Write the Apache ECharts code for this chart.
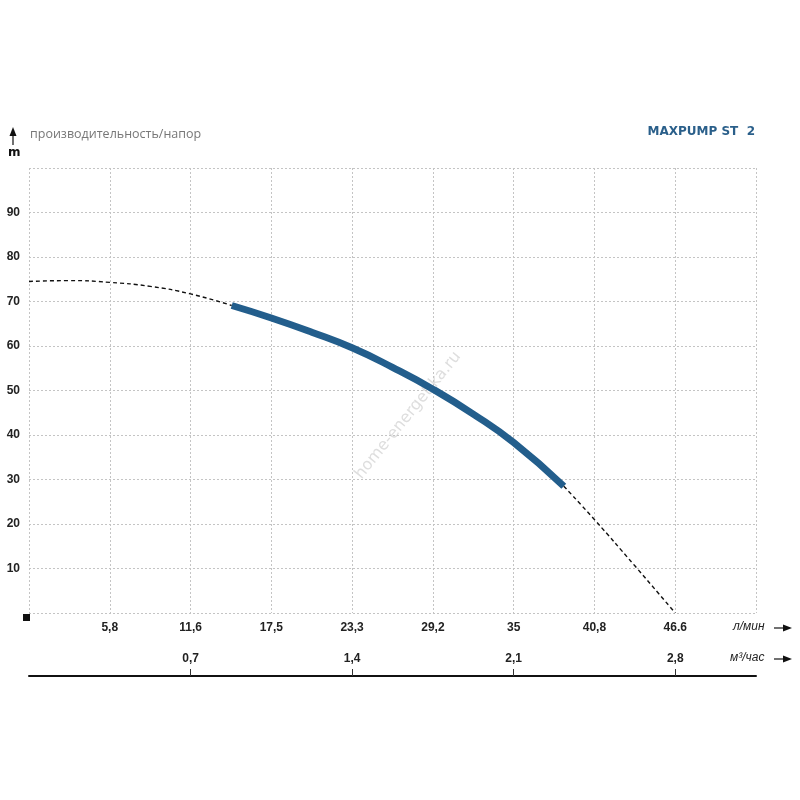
<!DOCTYPE html>
<html>
<head>
<meta charset="utf-8">
<script src="https://cdn.jsdelivr.net/npm/echarts@6/dist/echarts.min.js"></script>
<style>
  html, body { margin: 0; padding: 0; background: #fff; }
  #chart { width: 800px; height: 800px; }
</style>
</head>
<body>
<div id="chart"></div>
<script>
// подписи оси расхода (л/мин), по одной на каждую клетку сетки
const flowLabels = ['', '5,8', '11,6', '17,5', '23,3', '29,2', '35', '40,8', '46.6', ''];
const flowStep = 35 / 6;
// вторая ось, м3/час
const volTicks = [0.7, 1.4, 2.1, 2.8];
const volLabels = ['0,7', '1,4', '2,1', '2,8'];

// кривая напора [л/мин, м]
const headLeft = [[0, 74.5], [2.92, 74.7], [5.83, 74.3], [8.75, 73.4], [11.67, 71.7], [14.64, 69.1]];
const headWork = [[14.64, 69.1], [17.5, 66.3], [20.42, 63.1], [23.33, 59.6], [26.25, 55.2],
                  [29.17, 50.3], [32.08, 44.7], [35, 38.3], [38.62, 28.5]];
const headRight = [[38.62, 28.5], [40.83, 21.0], [43.75, 10.6], [46.67, 0]];

const myChart = echarts.init(document.getElementById('chart'));
const labelFont = '"Liberation Sans Narrow", "Liberation Sans", Arial, sans-serif';

const option = {
    animation: false,
    grid: { left: 29, right: 44, top: 168, bottom: 187 },
    xAxis: [
        {
            type: 'value',
            min: 0,
            max: flowStep * 9,
            interval: flowStep,
            axisLine: { show: false },
            axisTick: { show: false },
            axisLabel: {
                margin: 9,
                fontFamily: labelFont,
                fontWeight: 'bold',
                fontSize: 12,
                color: '#222',
                formatter: function (v) {
                    return flowLabels[Math.round(v / flowStep)] || '';
                }
            },
            splitLine: { lineStyle: { color: '#c4c4c4', type: [2, 2], width: 1 } }
        },
        {
            type: 'value',
            position: 'bottom',
            offset: 63,
            min: 0,
            max: flowStep * 9 * 0.06,
            axisLine: { show: true, lineStyle: { color: '#111', width: 2 } },
            axisTick: { show: true, inside: true, length: 7, customValues: volTicks, lineStyle: { color: '#333' } },
            axisLabel: {
                inside: true,
                margin: 11,
                customValues: volTicks,
                fontFamily: labelFont,
                fontWeight: 'bold',
                fontSize: 12,
                color: '#222',
                formatter: function (v) {
                    const i = volTicks.findIndex(t => Math.abs(t - v) < 1e-6);
                    return i >= 0 ? volLabels[i] : '';
                }
            },
            splitLine: { show: false }
        }
    ],
    yAxis: {
        type: 'value',
        min: 0,
        max: 100,
        interval: 10,
        axisLine: { show: false },
        axisTick: { show: false },
        axisLabel: {
            margin: 9,
            fontFamily: labelFont,
            fontWeight: 'bold',
            fontSize: 12,
            color: '#222',
            formatter: function (v) {
                return (v === 0 || v === 100) ? '' : v;
            }
        },
        splitLine: { lineStyle: { color: '#c4c4c4', type: [2, 2], width: 1 } }
    },
    graphic: [
        { type: 'text', left: 30, top: 128, style: { text: 'производительность/напор', fill: '#777', font: '12.5px "Open Sans", "DejaVu Sans", sans-serif' } },
        { type: 'text', right: 45, top: 126, style: { text: 'MAXPUMP ST  2', fill: '#2a5f8a', font: 'bold 12px "DejaVu Sans", Verdana, sans-serif' } },
        { type: 'polygon', shape: { points: [[13, 127], [9.5, 136], [16.5, 136]] }, style: { fill: '#111' } },
        { type: 'line', shape: { x1: 13, y1: 134, x2: 13, y2: 145 }, style: { stroke: '#111', lineWidth: 1.2 } },
        { type: 'text', left: 8, top: 147, style: { text: 'm', fill: '#111', font: 'bold 12px "DejaVu Sans", sans-serif' } },
        { type: 'rect', shape: { x: 23, y: 614, width: 7, height: 7 }, style: { fill: '#111' } },
        { type: 'text', left: 733, top: 621, style: { text: 'л/мин', fill: '#222', font: 'italic 12px ' + labelFont } },
        { type: 'text', left: 730, top: 652, style: { text: 'м³/час', fill: '#222', font: 'italic 12px ' + labelFont } },
        { type: 'line', shape: { x1: 774, y1: 628, x2: 785, y2: 628 }, style: { stroke: '#111', lineWidth: 1.2 } },
        { type: 'polygon', shape: { points: [[792, 628], [783, 624.5], [783, 631.5]] }, style: { fill: '#111' } },
        { type: 'line', shape: { x1: 774, y1: 659, x2: 785, y2: 659 }, style: { stroke: '#111', lineWidth: 1.2 } },
        { type: 'polygon', shape: { points: [[792, 659], [783, 655.5], [783, 662.5]] }, style: { fill: '#111' } },
        {
            type: 'text', x: 352, y: 472, rotation: 0.89,
            style: { text: 'home-energetika.ru', fill: '#dedede', font: '16px "DejaVu Sans", sans-serif' }
        }
    ],
    series: [
        {
            type: 'line', data: headLeft, smooth: true, symbol: 'none',
            lineStyle: { color: '#111', width: 1.4, type: [4, 3] }
        },
        {
            type: 'line', data: headWork, smooth: true, symbol: 'none',
            lineStyle: { color: '#235e8c', width: 7, cap: 'butt' }
        },
        {
            type: 'line', data: headRight, smooth: true, symbol: 'none',
            lineStyle: { color: '#111', width: 1.4, type: [4, 3] }
        }
    ]
};

myChart.setOption(option);
window.addEventListener('resize', function () {
    myChart.resize();
});
</script>
</body>
</html>
